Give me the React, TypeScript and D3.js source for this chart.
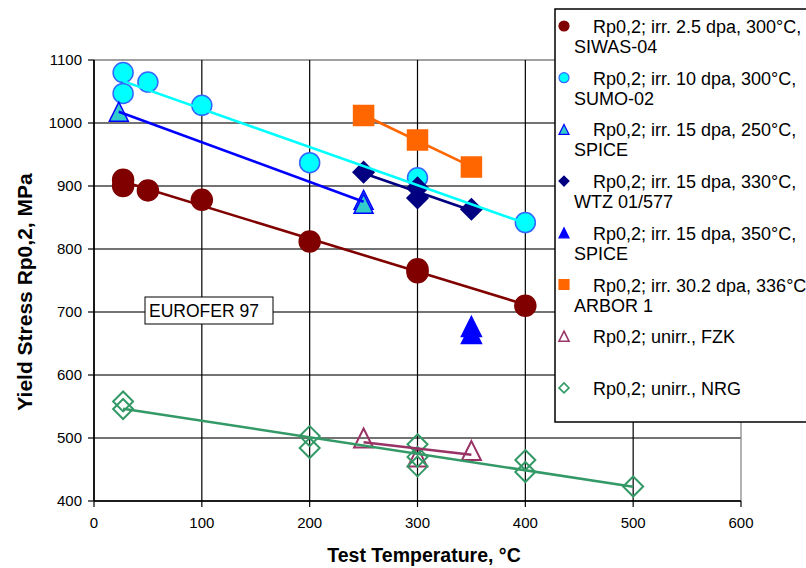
import * as d3 from "d3";

type Pt = [number, number];

// values (temperature °C, yield stress MPa)
const siwas: Pt[] = [[27, 910], [27, 900], [50, 893], [100, 878], [200, 812], [300, 768], [300, 763], [400, 710]];
const sumo: Pt[] = [[27, 1080], [27, 1047], [50, 1065], [100, 1028], [200, 937], [300, 913], [400, 842]];
const spice250: Pt[] = [[23, 1018], [250, 878], [250, 872]];
const wtz: Pt[] = [[250, 922], [300, 897], [300, 881], [350, 863]];
const spice350: Pt[] = [[350, 677], [350, 666]];
const arbor: Pt[] = [[250, 1012], [300, 973], [350, 930]];
const fzk: Pt[] = [[250, 500], [300, 470], [350, 480]];
const nrg: Pt[] = [[27, 558], [27, 546], [200, 503], [200, 484], [300, 490], [300, 470], [300, 455], [400, 465], [400, 446], [500, 423]];

const xTicks = [0, 100, 200, 300, 400, 500, 600];
const yTicks = [400, 500, 600, 700, 800, 900, 1000, 1100];

type Shape = "circle" | "triangle" | "diamond" | "square";

type Series = {
  data: Pt[];
  label: string[];
  shape: Shape;
  fill: string;
  stroke: string;
  trend: string | null;
  size: number;
};

const series: Series[] = [
  { data: siwas, label: ["Rp0,2; irr. 2.5 dpa, 300°C,", "SIWAS-04"], shape: "circle", fill: "#800000", stroke: "#800000", trend: "#800000", size: 21 },
  { data: sumo, label: ["Rp0,2; irr. 10 dpa, 300°C,", "SUMO-02"], shape: "circle", fill: "#00ffff", stroke: "#3366ff", trend: "#00ffff", size: 20 },
  { data: spice250, label: ["Rp0,2; irr. 15 dpa, 250°C,", "SPICE"], shape: "triangle", fill: "#33cccc", stroke: "#0000ff", trend: "#0000ff", size: 19 },
  { data: wtz, label: ["Rp0,2; irr. 15 dpa, 330°C,", "WTZ 01/577"], shape: "diamond", fill: "#000080", stroke: "#000080", trend: "#000080", size: 21 },
  { data: spice350, label: ["Rp0,2; irr. 15 dpa, 350°C,", "SPICE"], shape: "triangle", fill: "#0000ff", stroke: "#0000ff", trend: null, size: 20 },
  { data: arbor, label: ["Rp0,2; irr. 30.2 dpa, 336°C", "ARBOR 1"], shape: "square", fill: "#ff6600", stroke: "#ff6600", trend: "#ff6600", size: 20 },
  { data: fzk, label: ["Rp0,2; unirr., FZK"], shape: "triangle", fill: "none", stroke: "#993366", trend: "#993366", size: 19 },
  { data: nrg, label: ["Rp0,2; unirr., NRG"], shape: "diamond", fill: "none", stroke: "#339966", trend: "#339966", size: 20 }
];

const width = 806;
const height = 568;
const left = 94;
const right = 741;
const top = 60;
const bottom = 501;
const font = "Arial, 'Liberation Sans', sans-serif";

function markerPath(shape: Shape, s: number) {
  const h = s / 2;
  if (shape === "circle") {
    return `M${-h},0A${h},${h} 0 1,0 ${h},0A${h},${h} 0 1,0 ${-h},0Z`;
  }
  if (shape === "triangle") {
    return `M0,${-h}L${h},${h}L${-h},${h}Z`;
  }
  if (shape === "diamond") {
    return `M0,${-h}L${h},0L0,${h}L${-h},0Z`;
  }
  return `M${-h},${-h}H${h}V${h}H${-h}Z`;
}

// least-squares trend line, drawn across the series' x range (like Excel)
function fit(data: Pt[]) {
  const mx = d3.mean(data, (d) => d[0]) ?? 0;
  const my = d3.mean(data, (d) => d[1]) ?? 0;
  const sxy = d3.sum(data, (d) => (d[0] - mx) * (d[1] - my));
  const sxx = d3.sum(data, (d) => (d[0] - mx) ** 2);
  const slope = sxx ? sxy / sxx : 0;
  const [x0, x1] = d3.extent(data, (d) => d[0]) as [number, number];
  return [
    [x0, my + slope * (x0 - mx)],
    [x1, my + slope * (x1 - mx)]
  ] as Pt[];
}

export default function App() {
  const x = d3.scaleLinear().domain([0, 600]).range([left, right]);
  const y = d3.scaleLinear().domain([400, 1100]).range([bottom, top]);
  const line = d3.line<Pt>().x((d) => x(d[0])).y((d) => y(d[1]));

  const legendX = 555;
  const legendY = 9;
  const rowH = 51.7;

  return (
    <svg width={width} height={height} style={{ position: "absolute", left: 0, top: 0, background: "#fff" }} fontFamily={font}>
      {/* grid */}
      {yTicks.map((t) => (
        <line key={`gy${t}`} x1={left} x2={right} y1={y(t)} y2={y(t)} stroke={t === 1100 ? "#808080" : "#444"} strokeWidth={1.3} />
      ))}
      {xTicks.map((t) => (
        <line key={`gx${t}`} x1={x(t)} x2={x(t)} y1={top} y2={bottom} stroke={t === 600 ? "#808080" : "#000"} strokeWidth={1.2} />
      ))}
      {/* axes */}
      <line x1={left} x2={left} y1={top} y2={bottom} stroke="#000" strokeWidth={1.5} />
      <line x1={left} x2={right} y1={bottom} y2={bottom} stroke="#000" strokeWidth={1.5} />
      {yTicks.map((t) => (
        <g key={`ty${t}`}>
          <line x1={left - 6} x2={left} y1={y(t)} y2={y(t)} stroke="#000" strokeWidth={1.2} />
          <text x={left - 12} y={y(t)} dy={5} textAnchor="end" fontSize={15}>{t}</text>
        </g>
      ))}
      {xTicks.map((t) => (
        <g key={`tx${t}`}>
          <line x1={x(t)} x2={x(t)} y1={bottom} y2={bottom + 6} stroke="#000" strokeWidth={1.2} />
          <text x={x(t)} y={bottom + 27} textAnchor="middle" fontSize={15}>{t}</text>
        </g>
      ))}
      <text x={424} y={562} textAnchor="middle" fontSize={19.5} fontWeight="bold">Test Temperature, °C</text>
      <text transform="translate(32,292) rotate(-90)" textAnchor="middle" fontSize={21} fontWeight="bold">Yield Stress Rp0,2, MPa</text>

      {/* markers */}
      {series.map((s, i) => (
        <g key={`m${i}`}>
          {s.data.map((d, j) => (
            <path key={j} d={markerPath(s.shape, s.size)} transform={`translate(${x(d[0])},${y(d[1])})`}
              fill={s.fill} stroke={s.stroke} strokeWidth={s.fill === "none" ? 2 : 1.5} />
          ))}
        </g>
      ))}
      {/* trend lines */}
      {series.filter((s) => s.trend).map((s, i) => (
        <path key={`t${i}`} d={line(fit(s.data)) ?? ""} fill="none" stroke={s.trend as string} strokeWidth={2.6} />
      ))}

      {/* label box */}
      <rect x={145} y={297} width={128} height={27} fill="#fff" stroke="#000" strokeWidth={1} />
      <text x={149} y={317} fontSize={17.5}>EUROFER 97</text>

      {/* legend */}
      <rect x={legendX} y={legendY} width={width} height={413} fill="#fff" stroke="#000" strokeWidth={1.5} />
      {series.map((s, i) => {
        const cy = legendY + 17 + i * rowH;
        return (
          <g key={`l${i}`}>
            <path d={markerPath(s.shape, 10)} transform={`translate(${legendX + 9},${cy})`}
              fill={s.fill} stroke={s.stroke} strokeWidth={s.fill === "none" ? 1.6 : 1.2} />
            <text x={legendX + 38} y={cy + 7} fontSize={18}>{s.label[0]}</text>
            {s.label[1] ? <text x={legendX + 19} y={cy + 27} fontSize={18}>{s.label[1]}</text> : null}
          </g>
        );
      })}
    </svg>
  );
}
